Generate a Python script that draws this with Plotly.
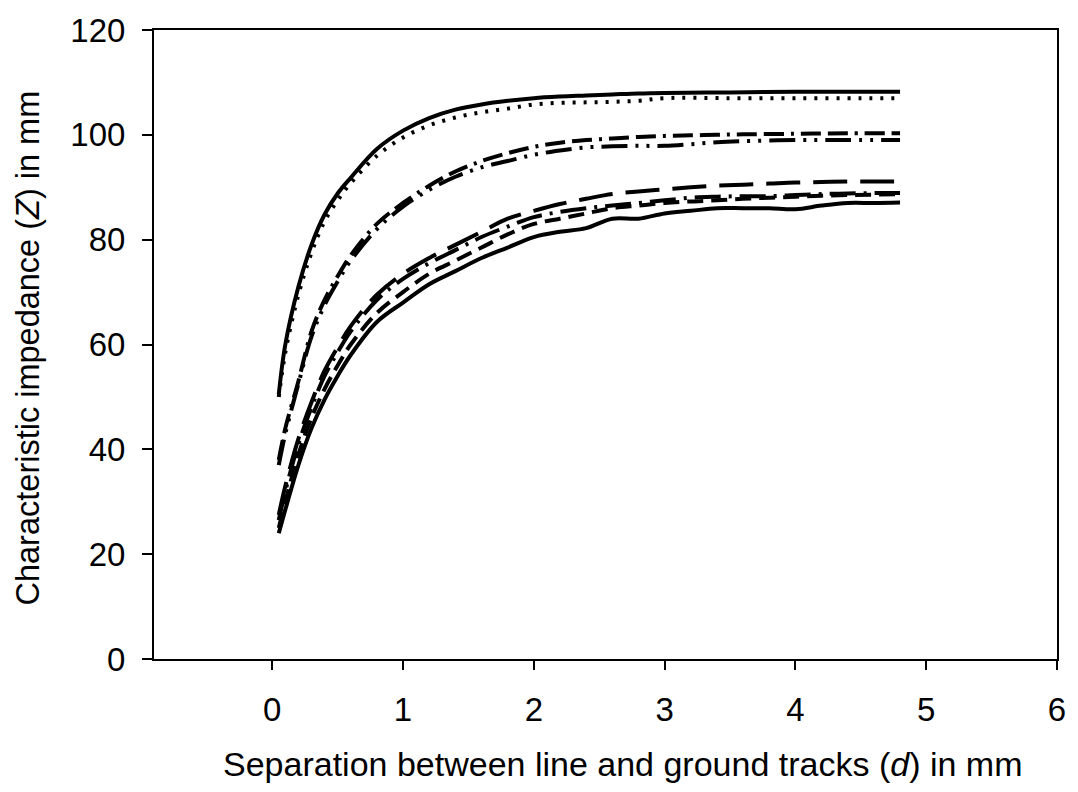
import plotly.graph_objects as go

# Top group
x_top = [0.05, 0.1, 0.2, 0.3, 0.4, 0.5, 0.6, 0.8, 1.0, 1.2, 1.4, 1.6, 1.8, 2.0, 2.2, 2.4, 2.6, 2.8, 3.0, 3.5, 4.0, 4.5, 4.8]
z_top_solid = [50.5, 60, 71, 79, 84.8, 88.8, 91.8, 97.3, 100.8, 103.2, 104.8, 105.8, 106.5, 107.0, 107.3, 107.5, 107.7, 107.9, 108.0, 108.1, 108.2, 108.2, 108.2]
z_top_dot = [50, 58.5, 69.5, 77.5, 83.5, 87.5, 90.8, 96, 99.5, 101.8, 103.3, 104.3, 105.0, 105.8, 106.1, 106.2, 106.3, 106.5, 107.0, 107.0, 107.0, 107.0, 107.0]

# Middle group
x_mid = [0.05, 0.1, 0.2, 0.3, 0.4, 0.5, 0.6, 0.8, 1.0, 1.2, 1.4, 1.6, 1.8, 2.0, 2.2, 2.4, 2.6, 2.8, 3.0, 3.2, 3.4, 3.6, 4.0, 4.4, 4.8]
z_mid_upper = [38, 44, 53, 62.5, 68.5, 73, 77, 83, 87, 90.3, 93, 95, 96.5, 97.7, 98.5, 99, 99.3, 99.6, 99.8, 99.9, 100.0, 100.1, 100.2, 100.3, 100.3]
z_mid_lower = [37, 43, 52.5, 61.5, 67.5, 72, 76, 82, 86.3, 89.5, 92, 93.8, 95, 96.2, 97, 97.6, 97.8, 97.9, 97.9, 98.2, 98.6, 98.8, 99.0, 99.0, 99.0]

# Bottom group
x_bot = [0.05, 0.1, 0.2, 0.3, 0.4, 0.5, 0.6, 0.8, 1.0, 1.2, 1.4, 1.6, 1.8, 2.0, 2.2, 2.4, 2.6, 2.8, 3.0, 3.2, 3.4, 3.6, 3.8, 4.0, 4.2, 4.4, 4.6, 4.8]
z_bot_longdash = [27.5, 33, 42, 49, 55, 59.5, 63.5, 69.5, 73.5, 76.5, 79, 81.5, 84, 85.5, 86.8, 87.8, 88.7, 89.2, 89.6, 90, 90.3, 90.5, 90.7, 90.9, 91, 91.1, 91.1, 91.1]
z_bot_dashdot = [26.5, 32, 41, 48, 54, 58.5, 62.5, 68.5, 72.5, 75.5, 78, 80.5, 82.5, 84.3, 85.3, 86, 86.5, 87, 87.5, 88, 88.2, 88.3, 88.3, 88.5, 88.7, 88.8, 88.9, 88.9]
z_bot_dash = [25, 30, 39, 46, 51.5, 56, 60, 66, 70, 73.5, 76, 78.5, 81, 83, 84, 85, 86, 86.5, 87, 87.3, 87.5, 87.8, 88, 88.2, 88.4, 88.5, 88.6, 88.7]
z_bot_solid = [24, 28.5, 37, 44, 49.5, 54, 58, 64.3, 68, 71.5, 74, 76.5, 78.5, 80.5, 81.5, 82.2, 84, 84, 85, 85.5, 86, 86, 86, 85.8, 86.5, 87, 87, 87.1]

x_ticks = [0, 1, 2, 3, 4, 5, 6]
y_ticks = [0, 20, 40, 60, 80, 100, 120]

series = [
    (x_top, z_top_solid, "solid"),
    (x_top, z_top_dot, "3px,8px"),
    (x_mid, z_mid_upper, "20px,7px,20px,7px,3px,7px"),
    (x_mid, z_mid_lower, "26px,8px,3px,8px,3px,8px"),
    (x_bot, z_bot_longdash, "34px,13px"),
    (x_bot, z_bot_dashdot, "26px,8px,3px,8px"),
    (x_bot, z_bot_dash, "16px,8px"),
    (x_bot, z_bot_solid, "solid"),
]

fig = go.Figure()
for xs, ys, dash in series:
    fig.add_trace(go.Scatter(
        x=xs, y=ys, mode="lines",
        line=dict(color="black", width=4, dash=dash, shape="spline", smoothing=1.0),
        showlegend=False, hoverinfo="skip",
    ))

font_family = "Liberation Sans, Arial, sans-serif"
fig.update_layout(
    width=1078, height=792,
    margin=dict(l=154, r=15, t=23, b=133),
    plot_bgcolor="white", paper_bgcolor="white",
    font=dict(family=font_family, color="black"),
    xaxis=dict(
        range=[-0.904, 6], tickvals=x_ticks, ticktext=[str(v) for v in x_ticks],
        showgrid=False, zeroline=False, showline=True, linecolor="black", linewidth=2,
        mirror=True, ticks="outside", ticklen=9, tickwidth=2, tickcolor="black",
        tickfont=dict(size=33, family=font_family),
        ticklabelstandoff=11,
    ),
    yaxis=dict(
        range=[0, 120], tickvals=y_ticks, ticktext=[str(v) for v in y_ticks],
        showgrid=False, zeroline=False, showline=True, linecolor="black", linewidth=2,
        mirror=True, ticks="outside", ticklen=10, tickwidth=2, tickcolor="black",
        tickfont=dict(size=33, family=font_family),
        ticklabelstandoff=10,
    ),
    annotations=[
        dict(text="Separation between line and ground tracks (<i>d</i>) in mm",
             xref="paper", yref="paper", x=0.519, y=-0.1667,
             xanchor="center", yanchor="middle", showarrow=False,
             font=dict(size=34, family=font_family, color="black")),
        dict(text="Characteristic impedance (<i>Z</i>) in mm",
             xref="paper", yref="paper", x=-0.1397, y=0.495, textangle=-90,
             xanchor="center", yanchor="middle", showarrow=False,
             font=dict(size=32.5, family=font_family, color="black")),
    ],
)

fig.write_html("out.html")
